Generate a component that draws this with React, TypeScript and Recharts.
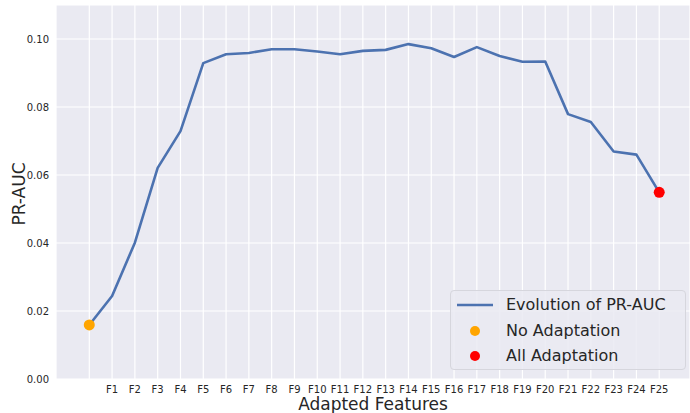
import React from 'react';
import { ComposedChart, Line, XAxis, YAxis, CartesianGrid, Legend } from 'recharts';

const features = ['', 'F1', 'F2', 'F3', 'F4', 'F5', 'F6', 'F7', 'F8', 'F9', 'F10', 'F11', 'F12', 'F13', 'F14', 'F15', 'F16', 'F17', 'F18', 'F19', 'F20', 'F21', 'F22', 'F23', 'F24', 'F25'];
const prAuc = [0.0159, 0.0244, 0.0401, 0.0621, 0.0729, 0.0929, 0.0955, 0.0959, 0.0970, 0.0970, 0.0963, 0.0955, 0.0965, 0.0968, 0.0985, 0.0973, 0.0947, 0.0976, 0.0950, 0.0933, 0.0934, 0.0779, 0.0756, 0.0669, 0.0660, 0.0549];
const noAdaptation = { feature: '', value: 0.0159 };
const allAdaptation = { feature: 'F25', value: 0.0549 };
const yTicks = [0, 0.02, 0.04, 0.06, 0.08, 0.1];

const FONT = '"DejaVu Sans", sans-serif';
const BLUE = '#4C72B0';
const TEXT = '#262626';

const data = features.map((f, i) => ({
    idx: i,
    feature: f,
    prAuc: prAuc[i],
    noAdapt: f === noAdaptation.feature && i === 0 ? noAdaptation.value : null,
    allAdapt: f === allAdaptation.feature ? allAdaptation.value : null,
}));

const XTick = (props: any) => {
    const { x, payload } = props;
    return (
        <text x={x} y={393} textAnchor="middle" fontSize={10} fontFamily={FONT} fill={TEXT}>
            {features[payload.value]}
        </text>
    );
};

const YTick = (props: any) => {
    const { y, payload } = props;
    return (
        <text x={49} y={y + 3.6} textAnchor="end" fontSize={10} fontFamily={FONT} fill={TEXT}>
            {payload.value.toFixed(2)}
        </text>
    );
};

const LegendBox = () => {
    const rows = [
        { label: 'Evolution of PR-AUC', kind: 'line', color: BLUE },
        { label: 'No Adaptation', kind: 'dot', color: '#FFA500' },
        { label: 'All Adaptation', kind: 'dot', color: '#FF0000' },
    ];
    return (
        <div style={{
            position: 'relative', width: 236, height: 80, boxSizing: 'border-box',
            background: 'rgba(234,234,242,0.85)', border: '1px solid #D6D6DD', borderRadius: 4,
            fontFamily: FONT, fontSize: 16, color: TEXT,
        }}>
            {rows.map((r, i) => (
                <div key={r.label} style={{ position: 'absolute', left: 0, top: 14 + i * 25.5 - 11, height: 22, width: 234 }}>
                    <svg width={50} height={22} style={{ position: 'absolute', left: 0, top: 0 }}>
                        {r.kind === 'line'
                            ? <line x1={6} x2={42} y1={11} y2={11} stroke={r.color} strokeWidth={2.5} />
                            : <circle cx={24} cy={11} r={5} fill={r.color} />}
                    </svg>
                    <span style={{ position: 'absolute', left: 55, top: 1, lineHeight: '20px', whiteSpace: 'nowrap' }}>{r.label}</span>
                </div>
            ))}
        </div>
    );
};

export default function App() {
    return (
        <div style={{ position: 'absolute', left: 0, top: 0, width: 690, height: 413, background: '#fff' }}>
            <ComposedChart width={690} height={413} data={data} margin={{ top: 5, right: 0, bottom: 0, left: 0 }}>
                <CartesianGrid fill="#EAEAF2" stroke="#FFFFFF" strokeWidth={1.2} />
                <XAxis
                    dataKey="idx"
                    type="number"
                    domain={[-1.46, 26.35]}
                    ticks={features.map((_, i) => i)}
                    interval={0}
                    height={34}
                    tickLine={false}
                    axisLine={false}
                    tick={<XTick />}
                    allowDataOverflow
                />
                <YAxis
                    type="number"
                    domain={[0, 0.11]}
                    ticks={yTicks}
                    width={56}
                    tickLine={false}
                    axisLine={false}
                    tick={<YTick />}
                    allowDataOverflow
                />
                <Legend
                    layout="vertical"
                    align="center"
                    verticalAlign="middle"
                    content={<LegendBox />}
                    wrapperStyle={{ left: 450, top: 290, width: 236, height: 80 }}
                />
                <Line dataKey="noAdapt" stroke="none" isAnimationActive={false} legendType="none"
                    dot={{ r: 5.5, fill: '#FFA500', stroke: 'none' }} activeDot={false} />
                <Line dataKey="allAdapt" stroke="none" isAnimationActive={false} legendType="none"
                    dot={{ r: 5.5, fill: '#FF0000', stroke: 'none' }} activeDot={false} />
                <Line dataKey="prAuc" stroke={BLUE} strokeWidth={2.6} dot={false} activeDot={false}
                    isAnimationActive={false} strokeLinejoin="round" />
            </ComposedChart>
            <div style={{
                position: 'absolute', left: 18.5, top: 194, transform: 'translate(-50%, -50%) rotate(-90deg)',
                fontFamily: FONT, fontSize: 17, color: TEXT, whiteSpace: 'nowrap',
            }}>PR-AUC</div>
            <div style={{
                position: 'absolute', left: 373, top: 396, transform: 'translateX(-50%)',
                fontFamily: FONT, fontSize: 17, lineHeight: '17px', color: TEXT, whiteSpace: 'nowrap',
            }}>Adapted Features</div>
        </div>
    );
}
